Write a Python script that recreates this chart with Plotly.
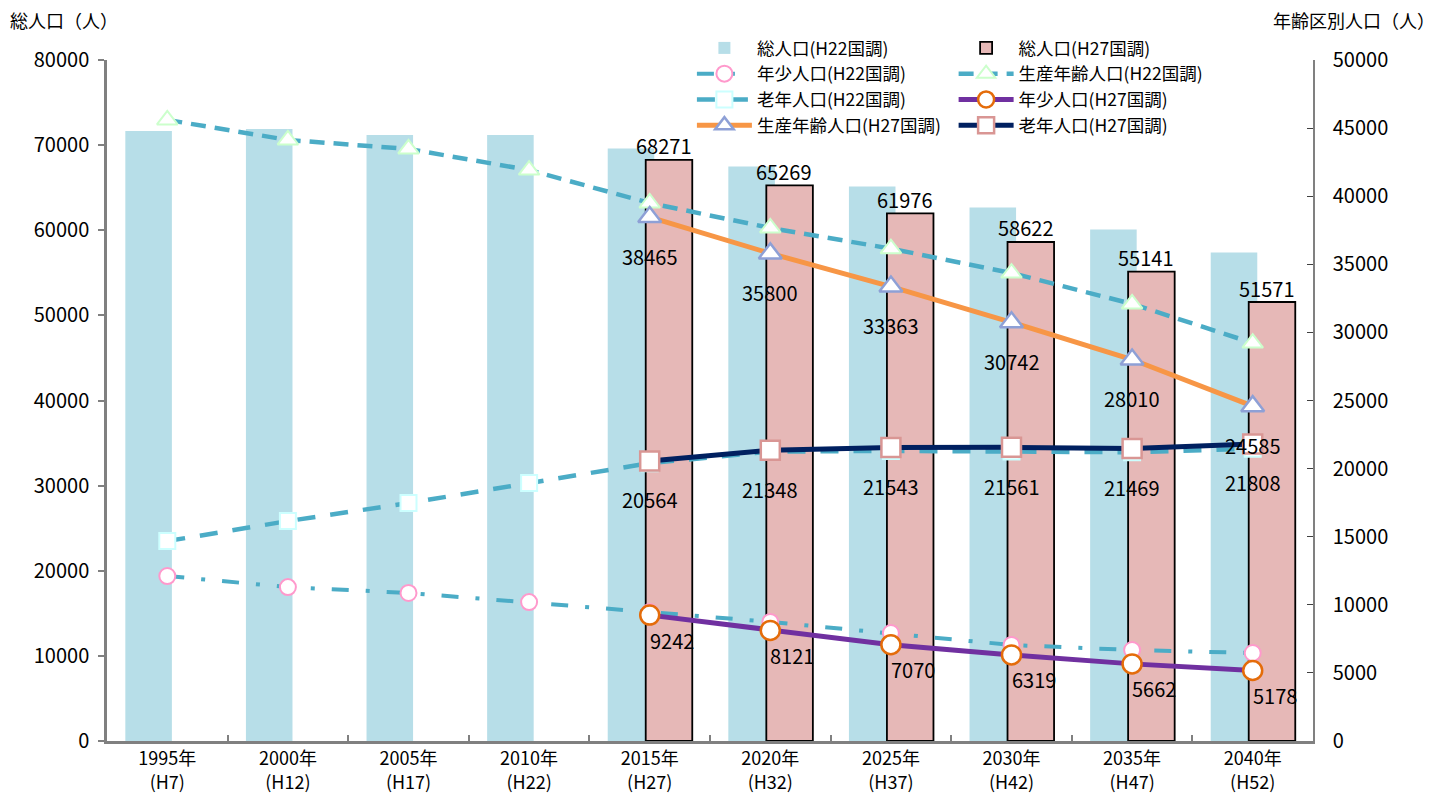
import plotly.graph_objects as go

years = ["1995年", "2000年", "2005年", "2010年", "2015年", "2020年", "2025年", "2030年", "2035年", "2040年"]
eras = ["(H7)", "(H12)", "(H17)", "(H22)", "(H27)", "(H32)", "(H37)", "(H42)", "(H47)", "(H52)"]
cats = [f"{y}<br>{e}" for y, e in zip(years, eras)]
cats27 = cats[4:]

# 総人口 (left axis)
total_h22 = [71660, 71890, 71190, 71190, 69600, 67490, 65140, 62680, 60100, 57400]
total_h27 = [68271, 65269, 61976, 58622, 55141, 51571]

# 年齢区別人口 (right axis)
youth_h22 = [12110, 11300, 10870, 10200, 9470, 8740, 7930, 7050, 6680, 6460]
prod_h22 = [45600, 44130, 43470, 41920, 39500, 37670, 36150, 34360, 32090, 29220]
old_h22 = [14680, 16150, 17470, 18940, 20400, 21250, 21300, 21250, 21200, 21450]
youth_h27 = [9242, 8121, 7070, 6319, 5662, 5178]
prod_h27 = [38465, 35800, 33363, 30742, 28010, 24585]
old_h27 = [20564, 21348, 21543, 21561, 21469, 21808]

JP = "Noto Sans CJK JP"
H22C = "#4bacc6"

fig = go.Figure()

fig.add_trace(go.Bar(x=cats, y=total_h22, name="総人口(H22国調)", marker=dict(color="#b7dee8", line=dict(width=0)),
                     width=0.386, offset=-0.348, legend="legend"))
fig.add_trace(go.Bar(x=cats27, y=total_h27, name="総人口(H27国調)", marker=dict(color="#e6b8b7", line=dict(color="black", width=1.8)),
                     width=0.386, offset=-0.033, legend="legend2"))

fig.add_trace(go.Scatter(x=cats, y=youth_h22, yaxis="y2", name="年少人口(H22国調)", mode="lines+markers",
                         line=dict(color=H22C, width=4, dash="17px,17px,4px,17px"),
                         marker=dict(symbol="circle", size=16, color="white", line=dict(color="#ff99cc", width=2)),
                         legend="legend"))
fig.add_trace(go.Scatter(x=cats, y=prod_h22, yaxis="y2", name="生産年齢人口(H22国調)", mode="lines+markers",
                         line=dict(color=H22C, width=4.5, dash="15px,9px"),
                         marker=dict(symbol="triangle-up", size=18, color="white", line=dict(color="#ccffcc", width=2)),
                         legend="legend2"))
fig.add_trace(go.Scatter(x=cats, y=old_h22, yaxis="y2", name="老年人口(H22国調)", mode="lines+markers",
                         line=dict(color=H22C, width=4.5, dash="18px,15px"),
                         marker=dict(symbol="square", size=16, color="white", line=dict(color="#ccffff", width=2)),
                         legend="legend"))
fig.add_trace(go.Scatter(x=cats27, y=youth_h27, yaxis="y2", name="年少人口(H27国調)", mode="lines+markers",
                         line=dict(color="#7030a0", width=5),
                         marker=dict(symbol="circle", size=19, color="white", line=dict(color="#e46c0a", width=2.5)),
                         legend="legend2"))
fig.add_trace(go.Scatter(x=cats27, y=prod_h27, yaxis="y2", name="生産年齢人口(H27国調)", mode="lines+markers",
                         line=dict(color="#f79646", width=5),
                         marker=dict(symbol="triangle-up", size=20, color="white", line=dict(color="#8ea0d6", width=2.5)),
                         legend="legend"))
fig.add_trace(go.Scatter(x=cats27, y=old_h27, yaxis="y2", name="老年人口(H27国調)", mode="lines+markers",
                         line=dict(color="#002060", width=5),
                         marker=dict(symbol="square", size=19, color="white", line=dict(color="#d99694", width=2.5)),
                         legend="legend2"))

annotations = []
lab_font = dict(family=JP, size=20, color="black")
for c, v in zip(cats27, total_h27):
    annotations.append(dict(x=c, y=v, xref="x", yref="y", text=str(v), showarrow=False,
                            xshift=14, yshift=14, font=lab_font))
for c, v in zip(cats27, prod_h27):
    annotations.append(dict(x=c, y=v, xref="x", yref="y2", text=str(v), showarrow=False,
                            yshift=-39, font=lab_font))
for c, v in zip(cats27, old_h27):
    annotations.append(dict(x=c, y=v, xref="x", yref="y2", text=str(v), showarrow=False,
                            yshift=-39, font=lab_font))
for c, v in zip(cats27, youth_h27):
    annotations.append(dict(x=c, y=v, xref="x", yref="y2", text=str(v), showarrow=False,
                            xshift=22, yshift=-25, font=lab_font))

annotations.append(dict(x=-0.0821, y=1.0587, xref="paper", yref="paper", xanchor="left", yanchor="middle",
                        text="総人口（人）", showarrow=False, font=dict(family=JP, size=18, color="black")))
annotations.append(dict(x=1.1028, y=1.0587, xref="paper", yref="paper", xanchor="right", yanchor="middle",
                        text="年齢区別人口（人）", showarrow=False, font=dict(family=JP, size=18, color="black")))

leg_common = dict(orientation="v", bgcolor="rgba(0,0,0,0)", font=dict(family=JP, size=17.5, color="black"),
                  itemwidth=55, tracegroupgap=0, xanchor="left", yanchor="top")

# page body has an 8px margin, so the figure is sized to fill the remaining window
fig.update_layout(
    width=1434, height=793,
    margin=dict(l=99, r=129, t=52, b=60, autoexpand=False),
    plot_bgcolor="white", paper_bgcolor="white",
    barmode="overlay",
    font=dict(family=JP, size=18, color="black"),
    xaxis=dict(type="category", categoryorder="array", categoryarray=cats, automargin=False,
               showline=True, linecolor="#808080", linewidth=2.5,
               ticks="inside", tickson="boundaries", ticklen=6, tickcolor="#808080", tickwidth=2,
               tickfont=dict(family=JP, size=18), showgrid=False, range=[-0.5, 9.5]),
    yaxis=dict(range=[0, 80000], dtick=10000, tickformat="d", automargin=False,
               showline=True, linecolor="#808080", linewidth=2.5,
               ticks="outside", ticklen=6, tickcolor="#808080", tickwidth=2, showgrid=False, zeroline=False,
               tickfont=dict(family=JP, size=20), ticklabelstandoff=5),
    yaxis2=dict(range=[0, 50000], dtick=5000, tickformat="d", automargin=False,
                overlaying="y", side="right", showline=True,
                linecolor="#808080", linewidth=1.5, ticks="inside", ticklen=6, tickcolor="#404040", tickwidth=1.2,
                showgrid=False, zeroline=False, tickfont=dict(family=JP, size=20), ticklabelstandoff=14),
    legend=dict(x=0.485, y=1.044, **leg_common),
    legend2=dict(x=0.702, y=1.044, **leg_common),
    annotations=annotations,
    showlegend=True,
)

fig.write_html("out.html")
